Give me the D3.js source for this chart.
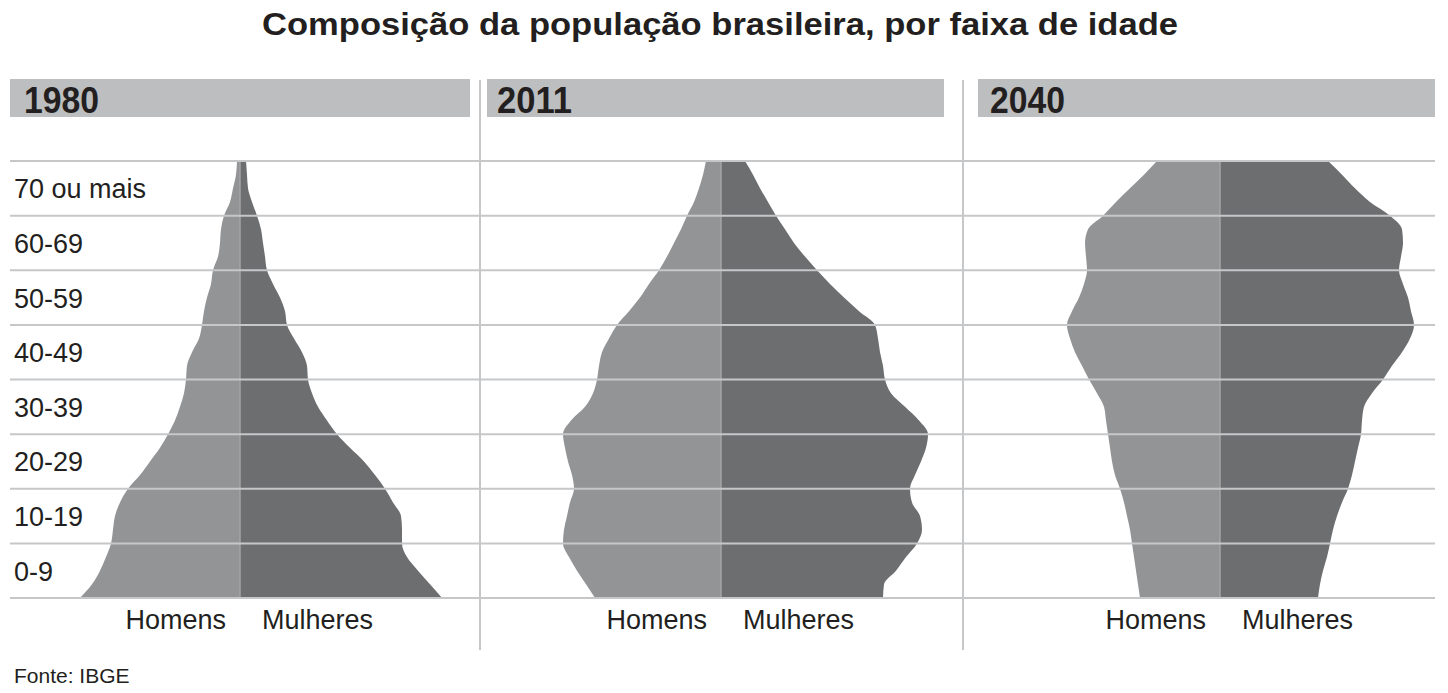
<!DOCTYPE html>
<html>
<head>
<meta charset="utf-8">
<script src="https://cdn.jsdelivr.net/npm/d3@7"></script>
<style>
  body { margin: 0; background: #fff; }
  svg { display: block; font-family: "Liberation Sans", Arial, sans-serif; }
</style>
</head>
<body>
<div id="chart"></div>
<script>
// idades amostradas (anos) para o contorno das piramides
var idades = [0, 2.5, 5, 7.5, 10, 12.5, 15, 17.5, 20, 22.5, 25, 27.5, 30, 32.5, 35, 37.5,
              40, 42.5, 45, 47.5, 50, 52.5, 55, 57.5, 60, 62.5, 65, 67.5, 70, 72.5, 75, 77.5, 80];

var faixas = ["0-9", "10-19", "20-29", "30-39", "40-49", "50-59", "60-69", "70 ou mais"];
var limitesFaixas = [0, 10, 20, 30, 40, 50, 60, 70, 80];
var anos = ["1980", "2011", "2040"];

// largura relativa de cada lado
var homens1980 = [160, 148, 140, 134, 129, 127, 125, 120, 112, 100, 90, 80, 72, 65, 60, 56,
                  54, 53, 48, 41, 38, 36, 33, 29, 27, 22, 20, 19, 16, 10, 7, 4, 3];
var mulheres1980 = [202, 190, 178, 167, 162, 162, 161, 153, 145, 135, 124, 110, 97, 87, 78, 72,
                    68, 67, 62, 54, 47, 45, 40, 33, 27, 25, 23, 21, 17, 12, 8, 7, 6];

var homens2011 = [126, 135, 144, 152, 158, 157, 154, 151, 147, 149, 153, 156, 158, 150, 136, 128,
                  124, 122, 119, 112, 104, 92, 81, 72, 62, 54, 47, 40, 34, 27, 22, 18, 15];
var mulheres2011 = [162, 163, 175, 185, 196, 201, 199, 191, 189, 194, 200, 205, 207, 198, 184, 170,
                    164, 162, 159, 157, 154, 138, 123, 109, 96, 84, 73, 64, 55, 47, 39, 32, 24];

var homens2040 = [80, 82, 84, 86, 88, 90, 93, 96, 100, 105, 108, 110, 112, 114, 116, 123,
                  131, 138, 145, 150, 153, 148, 141, 136, 133, 134, 135, 132, 117, 104, 90, 76, 63];
var mulheres2040 = [98, 100, 103, 107, 110, 113, 117, 122, 128, 132, 135, 138, 141, 142, 144, 152,
                    163, 172, 182, 190, 194, 191, 188, 183, 179, 181, 183, 182, 170, 150, 135, 122, 108];

var series = [
    { ano: anos[0], homens: homens1980, mulheres: mulheres1980 },
    { ano: anos[1], homens: homens2011, mulheres: mulheres2011 },
    { ano: anos[2], homens: homens2040, mulheres: mulheres2040 }
];

// layout dos paineis
var paineis = [
    { centro: 240, caixaX: 10, caixaW: 460, textoX: 24 },
    { centro: 721, caixaX: 487, caixaW: 457, textoX: 497 },
    { centro: 1220, caixaX: 978, caixaW: 457, textoX: 990 }
];
var divisorias = [480, 963];

var width = 1448, height = 693;
var corHomens = "#939496", corMulheres = "#6d6e70", corCaixa = "#bdbec0",
    corGrade = "#c6c7c9", corTexto = "#231f20";

var svg = d3.select("#chart").append("svg")
    .attr("width", width)
    .attr("height", height);

var y = d3.scaleLinear().domain([0, 80]).range([598, 161]);
var larg = d3.scaleLinear().domain([0, 200]).range([0, 200]);

// titulo
svg.append("text")
    .attr("x", 262)
    .attr("y", 35)
    .attr("textLength", 916)
    .attr("lengthAdjust", "spacingAndGlyphs")
    .style("font-size", "31px")
    .style("font-weight", "bold")
    .style("fill", corTexto)
    .text("Composição da população brasileira, por faixa de idade");

// caixas dos anos
var cab = svg.selectAll(".cabecalho")
    .data(series)
    .enter().append("g")
    .attr("class", "cabecalho");

cab.append("rect")
    .attr("x", function (d, i) { return paineis[i].caixaX; })
    .attr("y", 79)
    .attr("width", function (d, i) { return paineis[i].caixaW; })
    .attr("height", 38)
    .style("fill", corCaixa);

cab.append("text")
    .attr("x", function (d, i) { return paineis[i].textoX; })
    .attr("y", 113)
    .attr("textLength", 75)
    .attr("lengthAdjust", "spacingAndGlyphs")
    .style("font-size", "36px")
    .style("font-weight", "bold")
    .style("fill", corTexto)
    .text(function (d) { return d.ano; });

// piramides
series.forEach(function (s, i) {
    var c = paineis[i].centro;

    var areaHomens = d3.area()
        .curve(d3.curveMonotoneY)
        .y(function (d, j) { return y(idades[j]); })
        .x0(c)
        .x1(function (d) { return c - larg(d); });

    var areaMulheres = d3.area()
        .curve(d3.curveMonotoneY)
        .y(function (d, j) { return y(idades[j]); })
        .x0(c)
        .x1(function (d) { return c + larg(d); });

    svg.append("path")
        .datum(s.homens)
        .attr("d", areaHomens)
        .style("fill", corHomens);

    svg.append("path")
        .datum(s.mulheres)
        .attr("d", areaMulheres)
        .style("fill", corMulheres);

    svg.append("line")
        .attr("x1", c).attr("x2", c)
        .attr("y1", y(80)).attr("y2", y(0))
        .style("stroke", "#a4a5a7")
        .style("stroke-width", 1.5);

    // rotulos Homens / Mulheres
    svg.append("text")
        .attr("x", c - 14)
        .attr("y", 629)
        .style("text-anchor", "end")
        .style("font-size", "27px")
        .style("fill", corTexto)
        .text("Homens");

    svg.append("text")
        .attr("x", c + 22)
        .attr("y", 629)
        .style("font-size", "27px")
        .style("fill", corTexto)
        .text("Mulheres");
});

// linhas de grade (por cima das piramides)
svg.selectAll(".grade")
    .data(limitesFaixas)
    .enter().append("line")
    .attr("class", "grade")
    .attr("x1", 10)
    .attr("x2", 1435)
    .attr("y1", function (d) { return y(d); })
    .attr("y2", function (d) { return y(d); })
    .style("stroke", corGrade)
    .style("stroke-width", 2);

// divisorias verticais
svg.selectAll(".divisoria")
    .data(divisorias)
    .enter().append("line")
    .attr("class", "divisoria")
    .attr("x1", function (d) { return d; })
    .attr("x2", function (d) { return d; })
    .attr("y1", 80)
    .attr("y2", 650)
    .style("stroke", corGrade)
    .style("stroke-width", 2);

// rotulos das faixas etarias
svg.selectAll(".faixa")
    .data(faixas)
    .enter().append("text")
    .attr("class", "faixa")
    .attr("x", 14)
    .attr("y", function (d, i) { return y(limitesFaixas[i] + 5) + 10; })
    .style("font-size", "27px")
    .style("fill", corTexto)
    .text(function (d) { return d; });

// fonte
svg.append("text")
    .attr("x", 14)
    .attr("y", 683)
    .style("font-size", "21px")
    .style("fill", corTexto)
    .text("Fonte: IBGE");
</script>
</body>
</html>
